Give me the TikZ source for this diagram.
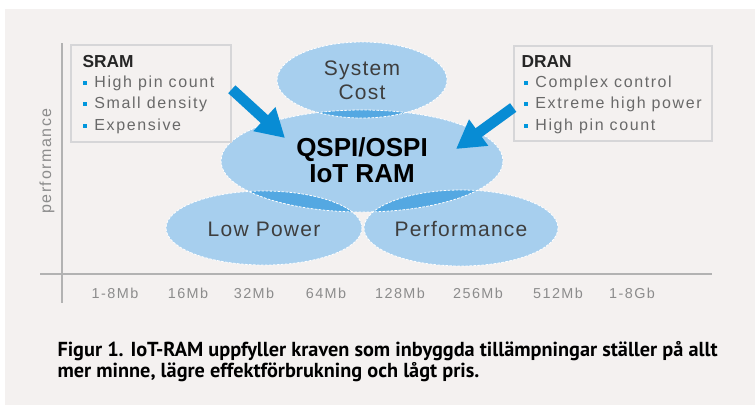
\documentclass[tikz,border=0pt]{standalone}
\usepackage{fontspec}
\setmainfont{Liberation Sans}
\newfontfamily\labelfont[LetterSpace=6]{Liberation Sans}
\newfontfamily\itemfont[LetterSpace=10]{Liberation Sans}
\newfontfamily\capfont{PT Sans}
\usetikzlibrary{arrows.meta,positioning}

\definecolor{bgcol}{RGB}{244,241,240}
\definecolor{lightblob}{RGB}{167,207,238}
\definecolor{darkblob}{RGB}{84,168,226}
\definecolor{arrowblue}{RGB}{8,140,212}
\definecolor{bulletblue}{RGB}{0,150,220}
\definecolor{boxline}{RGB}{214,214,216}
\definecolor{axisgray}{RGB}{178,178,178}
\definecolor{itemgray}{RGB}{105,105,105}
\definecolor{labelgray}{RGB}{62,62,62}

\tikzset{every picture/.style={line width=0.75pt}}
\tikzset{
  infobox/.style={draw=boxline, line width=1.2pt, inner sep=0pt},
  boxtitle/.style={anchor=west, inner sep=0pt, text=black!85, font=\bfseries\fontsize{13}{13}\selectfont},
  bullet/.style={fill=bulletblue, inner sep=0pt, minimum size=3.6pt},
  item/.style={inner sep=0pt, text=itemgray, font=\itemfont\fontsize{12}{12}\selectfont},
  tick/.style={inner sep=0pt, text=black!45, font=\itemfont\fontsize{10.8}{10.8}\selectfont},
  bloblabel/.style={inner sep=0pt, align=center, text=labelgray, font=\labelfont\fontsize{15.75}{18}\selectfont},
  blobedge/.style={draw=white, line width=0.6pt, dash pattern=on 2pt off 1pt},
  bigarrow/.style={draw=arrowblue, line width=8pt, -{Triangle[width=23pt,length=21pt]}},
}

\begin{document}
\begin{tikzpicture}[x=0.75pt,y=0.75pt,yscale=-1,xscale=1]
	\useasboundingbox (0,0) rectangle (755,405);
	\fill[white] (0,0) rectangle (755,405);
	\fill[bgcol] (5,9) rectangle (755,405);

	% axes
	\coordinate (ytop) at (62,43);
	\coordinate (ybot) at (62,303);
	\coordinate (xleft) at (40,274);
	\coordinate (xright) at (712,274);
	\draw[axisgray, line width=1.3pt] (ytop) -- (ybot);
	\draw[axisgray, line width=1.3pt] (xleft) -- (xright);
	\node[item, rotate=90, text=black!45] (ylabel) at (47,161) {performance};

	\foreach \lbl/\xx [count=\i] in {1-8Mb/115, 16Mb/188, 32Mb/254, 64Mb/326, 128Mb/400, 256Mb/478, 512Mb/558, 1-8Gb/632}
		\node[tick] (tick\i) at (\xx,293) {\lbl};

	% blobs
	\fill[lightblob] (362,80) ellipse [x radius=85, y radius=38];
	\fill[lightblob] (362,161) ellipse [x radius=141, y radius=51];
	\fill[lightblob] (264,228) ellipse [x radius=98, y radius=37];
	\fill[lightblob] (461,228) ellipse [x radius=97, y radius=38];
	\begin{scope}
		\clip (362,161) ellipse [x radius=141, y radius=51];
		\fill[darkblob] (362,80) ellipse [x radius=85, y radius=38];
		\fill[darkblob] (264,228) ellipse [x radius=98, y radius=37];
		\fill[darkblob] (461,228) ellipse [x radius=97, y radius=38];
	\end{scope}
	\draw[blobedge] (362,80) ellipse [x radius=85, y radius=38];
	\draw[blobedge] (362,161) ellipse [x radius=141, y radius=51];
	\draw[blobedge] (264,228) ellipse [x radius=98, y radius=37];
	\draw[blobedge] (461,228) ellipse [x radius=97, y radius=38];

	\node[bloblabel] (cost) at (362,80) {System\\Cost};
	\node[bloblabel, text=black, font=\bfseries\fontsize{19.5}{19.5}\selectfont] (iotram) at (362,160) {QSPI/OSPI\\IoT RAM};
	\node[bloblabel] (lowpower) at (264,229) {Low Power};
	\node[bloblabel] (perf) at (461,229) {Performance};

	% SRAM box
	\node[infobox, minimum width=120pt, minimum height=72.75pt] (sram) at (151,93.5) {};
	\node[boxtitle] (sramtitle) at (82,62) {SRAM};
	\foreach \txt/\yy [count=\i] in {High pin count/83, Small density/104, Expensive/126} {
		\node[bullet] (sb\i) at (85,\yy) {};
		\node[item, right=4.5pt of sb\i] (si\i) {\txt};
	}

	% DRAN box
	\node[infobox, minimum width=148.5pt, minimum height=71.25pt] (dran) at (613,93.5) {};
	\node[boxtitle] (drantitle) at (521,62) {DRAN};
	\foreach \txt/\yy [count=\i] in {Complex control/83, Extreme high power/104, High pin count/126} {
		\node[bullet] (db\i) at (526,\yy) {};
		\node[item, right=4.5pt of db\i] (di\i) {\txt};
	}

	% arrows
	\coordinate (sramtip) at (285,138);
	\coordinate (drantip) at (456,149);
	\draw[bigarrow] (sram.3) -- (sramtip);
	\draw[bigarrow] (dran.188) -- (drantip);

	% caption
	\node[anchor=north west, inner sep=0pt, align=left, font=\capfont\bfseries\fontsize{15.2}{16}\selectfont] (caption) at (57,341)
		{Figur 1. IoT-RAM uppfyller kraven som inbyggda tillämpningar ställer på allt\\mer minne, lägre effektförbrukning och lågt pris.};
\end{tikzpicture}
\end{document}
